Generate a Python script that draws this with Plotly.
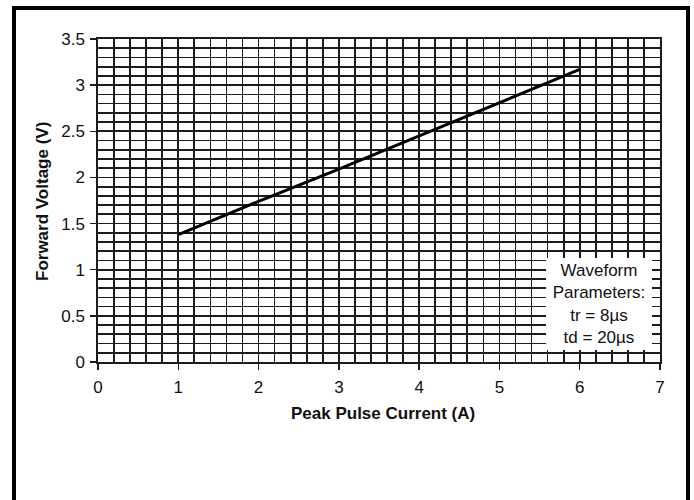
import plotly.graph_objects as go

# Data
current_a = [1, 2, 3, 4, 5, 6]
forward_v = [1.38, 1.74, 2.09, 2.45, 2.81, 3.17]

x_ticks = [0, 1, 2, 3, 4, 5, 6, 7]
y_ticks = [0, 0.5, 1, 1.5, 2, 2.5, 3, 3.5]
y_tick_text = ["0", "0.5", "1", "1.5", "2", "2.5", "3", "3.5"]

note_lines = ["Waveform", "Parameters:", "tr = 8µs", "td = 20µs"]

FONT = "Liberation Sans, Arial, sans-serif"
GRID = "#1c1c1c"

# plot area in screen pixels
PL, PR, PT, PB = 98, 660, 39, 362
W, H = 694, 500


def px_x(sx):
    return (sx - PL) / (PR - PL)


def px_y(sy):
    return (PB - sy) / (PB - PT)


fig = go.Figure()
fig.add_trace(go.Scatter(
    x=current_a, y=forward_v, mode="lines",
    line=dict(color="black", width=3),
    showlegend=False, hoverinfo="skip",
))

fig.update_layout(
    width=W, height=H,
    margin=dict(l=PL, r=W - PR, t=PT, b=H - PB),
    paper_bgcolor="white", plot_bgcolor="white",
    font=dict(family=FONT, size=17, color="#111"),
    showlegend=False,
)

axis_common = dict(
    showgrid=True, gridcolor=GRID, gridwidth=1.7,
    showline=True, linecolor=GRID, linewidth=1.7, mirror=True,
    ticks="outside", ticklen=6, tickcolor=GRID, tickwidth=1.5,
    zeroline=False, fixedrange=True,
    tickfont=dict(family=FONT, size=17, color="#111"),
)

fig.update_xaxes(
    range=[0, 7], tickvals=x_ticks, ticktext=[str(v) for v in x_ticks],
    minor=dict(dtick=0.2, showgrid=True, gridcolor=GRID, gridwidth=1.7, ticks=""),
    ticklabelstandoff=3,
    **axis_common,
)
fig.update_yaxes(
    range=[0, 3.5], tickvals=y_ticks, ticktext=y_tick_text,
    minor=dict(dtick=0.1, showgrid=True, gridcolor=GRID, gridwidth=1.7, ticks=""),
    ticklabelstandoff=2,
    **axis_common,
)

# Axis titles
fig.add_annotation(
    text="<b>Peak Pulse Current (A)</b>", xref="paper", yref="paper",
    x=px_x(383), y=px_y(413), showarrow=False,
    xanchor="center", yanchor="middle",
    font=dict(family=FONT, size=17, color="#111"),
)
fig.add_annotation(
    text="<b>Forward Voltage (V)</b>", xref="paper", yref="paper",
    x=px_x(42), y=px_y(202), showarrow=False, textangle=-90,
    xanchor="center", yanchor="middle",
    font=dict(family=FONT, size=17, color="#111"),
)

# Waveform parameters box
fig.add_annotation(
    text="<br>".join(note_lines), xref="x", yref="y",
    x=6.24, y=0.63, showarrow=False, align="center",
    width=104, height=90, bgcolor="white", borderwidth=0,
    font=dict(family=FONT, size=17, color="#111"),
)

# Outer frame
fig.add_shape(
    type="rect", xref="paper", yref="paper",
    x0=px_x(14), x1=px_x(688),
    y0=px_y(540), y1=px_y(8),
    line=dict(color="black", width=4), fillcolor="rgba(0,0,0,0)",
    layer="above",
)

fig.write_html(
    "out.html",
    config={"displayModeBar": False, "staticPlot": True},
    post_script="document.body.style.margin='0';document.body.style.overflow='hidden';",
)
